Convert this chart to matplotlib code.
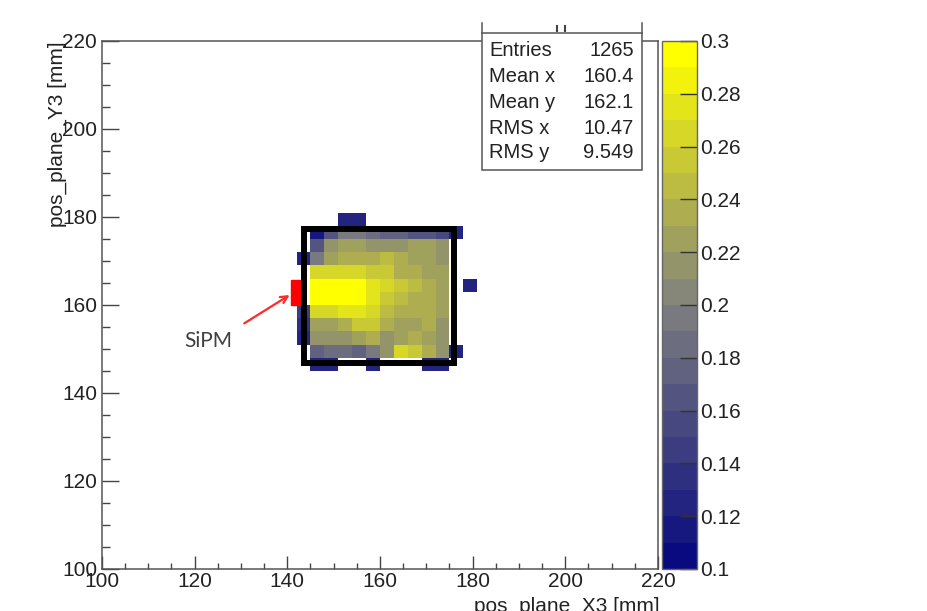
import numpy as np
import matplotlib
matplotlib.use("Agg")
import matplotlib.pyplot as plt
from matplotlib.colors import ListedColormap, BoundaryNorm
from matplotlib.patches import Rectangle
from matplotlib.lines import Line2D
from matplotlib.ticker import MultipleLocator

plt.rcParams['font.family'] = ['Liberation Sans', 'DejaVu Sans']

# histogram binning in mm (3 mm bins), rows listed from top to bottom
x_edges = np.arange(142, 182, 3)
y_edges = np.arange(181, 144, -3)

# bin contents (0 = empty bin, not drawn)
weights = [
    [0, 0, 0, .12, .12, 0, 0, 0, 0, 0, 0, 0, 0],
    [0, .11, .16, .19, .19, .18, .17, .17, .16, .16, .15, .12, 0],
    [0, .16, .21, .22, .22, .21, .21, .21, .22, .22, .21, 0, 0],
    [.12, .19, .22, .23, .23, .23, .24, .23, .22, .22, .21, 0, 0],
    [0, .26, .26, .26, .26, .25, .25, .23, .23, .22, .22, 0, 0],
    [0, .30, .30, .30, .30, .27, .26, .25, .24, .23, .22, 0, .12],
    [0, .30, .30, .30, .30, .27, .25, .24, .23, .23, .22, 0, 0],
    [.14, .26, .26, .27, .27, .26, .24, .23, .23, .23, .22, 0, 0],
    [.13, .22, .22, .23, .25, .25, .23, .22, .22, .23, .21, 0, 0],
    [.12, .21, .21, .21, .22, .23, .21, .22, .23, .22, .21, 0, 0],
    [0, .17, .18, .18, .17, .19, .21, .26, .25, .23, .21, .12, 0],
    [0, .12, .12, 0, 0, .12, 0, 0, 0, .12, .12, 0, 0],
]

stat_names = ["Entries", "Mean x", "Mean y", "RMS x", "RMS y"]
stat_values = ["1265", "160.4", "162.1", "10.47", "9.549"]

z_min, z_max, n_levels = 0.1, 0.3, 20
cbar_ticks = np.arange(0.10, 0.301, 0.02)

# palette: navy -> grey -> yellow, 20 discrete levels
t = np.linspace(0, 1, n_levels)
lo, mid, hi = np.array([0.04, 0.04, 0.50]), np.array([0.5, 0.5, 0.5]), np.array([1.0, 1.0, 0.0])
cols = [lo + (mid - lo) * (2 * v) if v < 0.5 else mid + (hi - mid) * (2 * v - 1) for v in t]
cmap = ListedColormap(cols)
norm = BoundaryNorm(np.linspace(z_min, z_max, n_levels + 1), n_levels)

W, H = 927, 611
fig = plt.figure(figsize=(W / 100, H / 100), dpi=100)


def fx(px):
    return px / W


def fy(py):
    return 1 - py / H


ax = fig.add_axes([fx(102), fy(569), fx(658) - fx(102), fy(41) - fy(569)])
cax = fig.add_axes([fx(662), fy(569), fx(697) - fx(662), fy(41) - fy(569)])

z = np.ma.masked_less(np.array(weights), z_min)
mesh = ax.pcolormesh(x_edges, y_edges, z, cmap=cmap, norm=norm)

ax.set_xlim(100, 220)
ax.set_ylim(100, 220)
ax.set_xticks(np.arange(100, 221, 20))
ax.set_yticks(np.arange(100, 221, 20))
ax.xaxis.set_minor_locator(MultipleLocator(5))
ax.yaxis.set_minor_locator(MultipleLocator(5))
ax.tick_params(axis='x', which='major', direction='in', length=9.5, width=1, color='#444444',
               labelsize=15, pad=2, labelcolor='#222222')
ax.tick_params(axis='x', which='minor', direction='in', length=4.5, width=1, color='#444444')
ax.tick_params(axis='y', which='major', direction='in', length=12, width=1, color='#444444',
               labelsize=15, pad=3.5, labelcolor='#222222')
ax.tick_params(axis='y', which='minor', direction='in', length=6, width=1, color='#444444')
for s in ax.spines.values():
    s.set_color('#555555')
    s.set_linewidth(1.1)

# SiPM marker, arrow and outline of the scintillator
ax.add_patch(Rectangle((140.8, 160.0), 1.9, 5.7, color='#ff0000', zorder=3))
ax.add_patch(Rectangle((143.5, 146.9), 32.5, 30.4, fill=False, edgecolor='black',
                       linewidth=4.3, joinstyle='miter', zorder=4))
ax.annotate('', xy=(141.0, 162.6), xytext=(130.2, 155.5),
            arrowprops=dict(arrowstyle='->,head_length=0.5,head_width=0.25',
                            color='#ff2a2a', lw=1.6))
ax.text(122.9, 151.8, 'SiPM', fontsize=15, color='#404040', family=['Lato', 'DejaVu Sans'],
        ha='center', va='center')

# colour scale
cb = fig.colorbar(mesh, cax=cax, ticks=cbar_ticks)
cb.minorticks_off()
cb.set_ticklabels([f'{v:g}' for v in np.round(cbar_ticks, 2)])
cax.tick_params(direction='in', length=12.5, width=1, color='#333333', labelsize=15,
                pad=2, labelcolor='#222222')
cb.outline.set_edgecolor('#666666')
cb.outline.set_linewidth(1)

# axis titles, ROOT style
fig.text(fx(660), fy(597), 'pos_plane_X3 [mm]', ha='right', va='top', fontsize=15, color='#222222')
fig.text(fx(57), fy(41), 'pos_plane_Y3 [mm]', ha='center', va='top', rotation=90,
         fontsize=15, color='#222222')

# statistics box
fig.add_artist(Rectangle((fx(482), fy(170)), fx(642) - fx(482), fy(33) - fy(170),
                         transform=fig.transFigure, facecolor='white', edgecolor='#555555',
                         linewidth=1.1, zorder=5))
for xp in (482, 642):
    fig.add_artist(Line2D([fx(xp), fx(xp)], [fy(23), fy(33)], color='#555555', lw=1.1, zorder=5))
for xp in (557, 565):
    fig.add_artist(Line2D([fx(xp), fx(xp)], [fy(26), fy(31)], color='#444444', lw=1.5, zorder=5))
row_y = [50, 76, 102, 128, 153]
for name, val, yp in zip(stat_names, stat_values, row_y):
    fig.text(fx(489), fy(yp), name, ha='left', va='center', fontsize=14.5, color='#222222', zorder=6)
    fig.text(fx(634), fy(yp), val, ha='right', va='center', fontsize=14.5, color='#222222', zorder=6)

fig.savefig('out.png', dpi=100)
